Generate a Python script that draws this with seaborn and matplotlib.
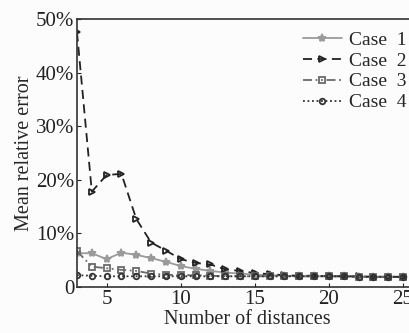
import numpy as np
import pandas as pd
import matplotlib
matplotlib.use("Agg")
import matplotlib.pyplot as plt
import seaborn as sns
from matplotlib.ticker import FuncFormatter

# data (mean relative error, %)
distances = list(range(3, 26))
case1 = [6.3, 6.3, 5.2, 6.4, 6.0, 5.4, 4.7, 3.9, 3.4, 3.0, 2.7, 2.5, 2.3, 2.2, 2.1, 2.0, 2.0, 2.0, 2.0, 1.9, 1.9, 1.9, 1.9]
case2 = [47.5, 17.8, 20.9, 21.1, 12.7, 8.3, 6.8, 5.2, 4.5, 4.2, 3.3, 3.0, 2.6, 2.4, 2.2, 2.1, 2.1, 2.0, 2.0, 2.0, 1.9, 1.9, 1.9]
case3 = [6.7, 3.8, 3.5, 3.2, 3.0, 2.5, 2.3, 2.2, 2.2, 2.1, 2.0, 2.0, 2.0, 2.0, 2.0, 2.0, 2.0, 2.0, 2.0, 1.9, 1.9, 1.9, 1.9]
case4 = [2.2, 2.1, 2.0, 2.0, 2.0, 2.0, 2.0, 2.0, 2.0, 2.0, 2.0, 2.0, 2.0, 2.0, 2.0, 2.0, 2.0, 2.0, 2.0, 1.9, 1.9, 1.9, 1.9]
labels = ["Case  1", "Case  2", "Case  3", "Case  4"]

df = pd.DataFrame({"x": distances, labels[0]: case1, labels[1]: case2,
                   labels[2]: case3, labels[3]: case4})
df_long = df.melt(id_vars="x", var_name="case", value_name="err")

sns.set_style("ticks")
plt.rcParams["font.family"] = ["Liberation Serif", "DejaVu Serif"]
plt.rcParams["xtick.direction"] = "in"
plt.rcParams["ytick.direction"] = "in"

fig = plt.figure(figsize=(4.09, 3.33), dpi=100, facecolor="#fcfcfc")
ax = fig.add_axes([77/409, 1-287/333, (417.8-77)/409, (287-19)/333])
ax.set_facecolor("#fcfcfc")

styles = {
    labels[0]: dict(color="#9a9a9a", ls="-", marker="*", ms=6, mfc="#9a9a9a"),
    labels[1]: dict(color="#222222", ls=(0, (5, 3)), marker=">", ms=5, mfc="none"),
    labels[2]: dict(color="#6a6a6a", ls=(0, (5, 2, 1, 2, 1, 2)), marker="s", ms=4.5, mfc="none"),
    labels[3]: dict(color="#333333", ls=(0, (1, 1.5)), marker="o", ms=4, mfc="none"),
}
for lab in labels:
    sub = df_long[df_long["case"] == lab]
    st = styles[lab]
    sns.lineplot(data=sub, x="x", y="err", ax=ax, label=lab, color=st["color"],
                 linestyle=st["ls"], marker=st["marker"], markersize=st["ms"],
                 markerfacecolor=st["mfc"], markeredgecolor=st["color"],
                 markeredgewidth=1.3, linewidth=1.3)

ax.set_xlim(3, 26)
ax.set_ylim(0, 50)
ax.set_xticks([5, 10, 15, 20, 25])
ax.set_yticks([0, 10, 20, 30, 40, 50])
ax.yaxis.set_major_formatter(FuncFormatter(lambda v, p: "0" if v == 0 else f"{v:.0f}%"))
ax.tick_params(labelsize=15, length=3, colors="#222222", pad=2)
ax.set_xlabel("Number of distances", fontsize=14.5, labelpad=1)
ax.set_ylabel("Mean relative error", fontsize=14.5, labelpad=1)
for s in ax.spines.values():
    s.set_color("#333333")
    s.set_linewidth(1.2)

ax.legend(loc="upper left", bbox_to_anchor=(303/409, 1-31/333), bbox_transform=fig.transFigure,
          frameon=False, fontsize=14, handlelength=2.0, handletextpad=0.35,
          labelspacing=0.17, borderpad=0, borderaxespad=0)

fig.savefig("out.png", dpi=100, facecolor=fig.get_facecolor())
